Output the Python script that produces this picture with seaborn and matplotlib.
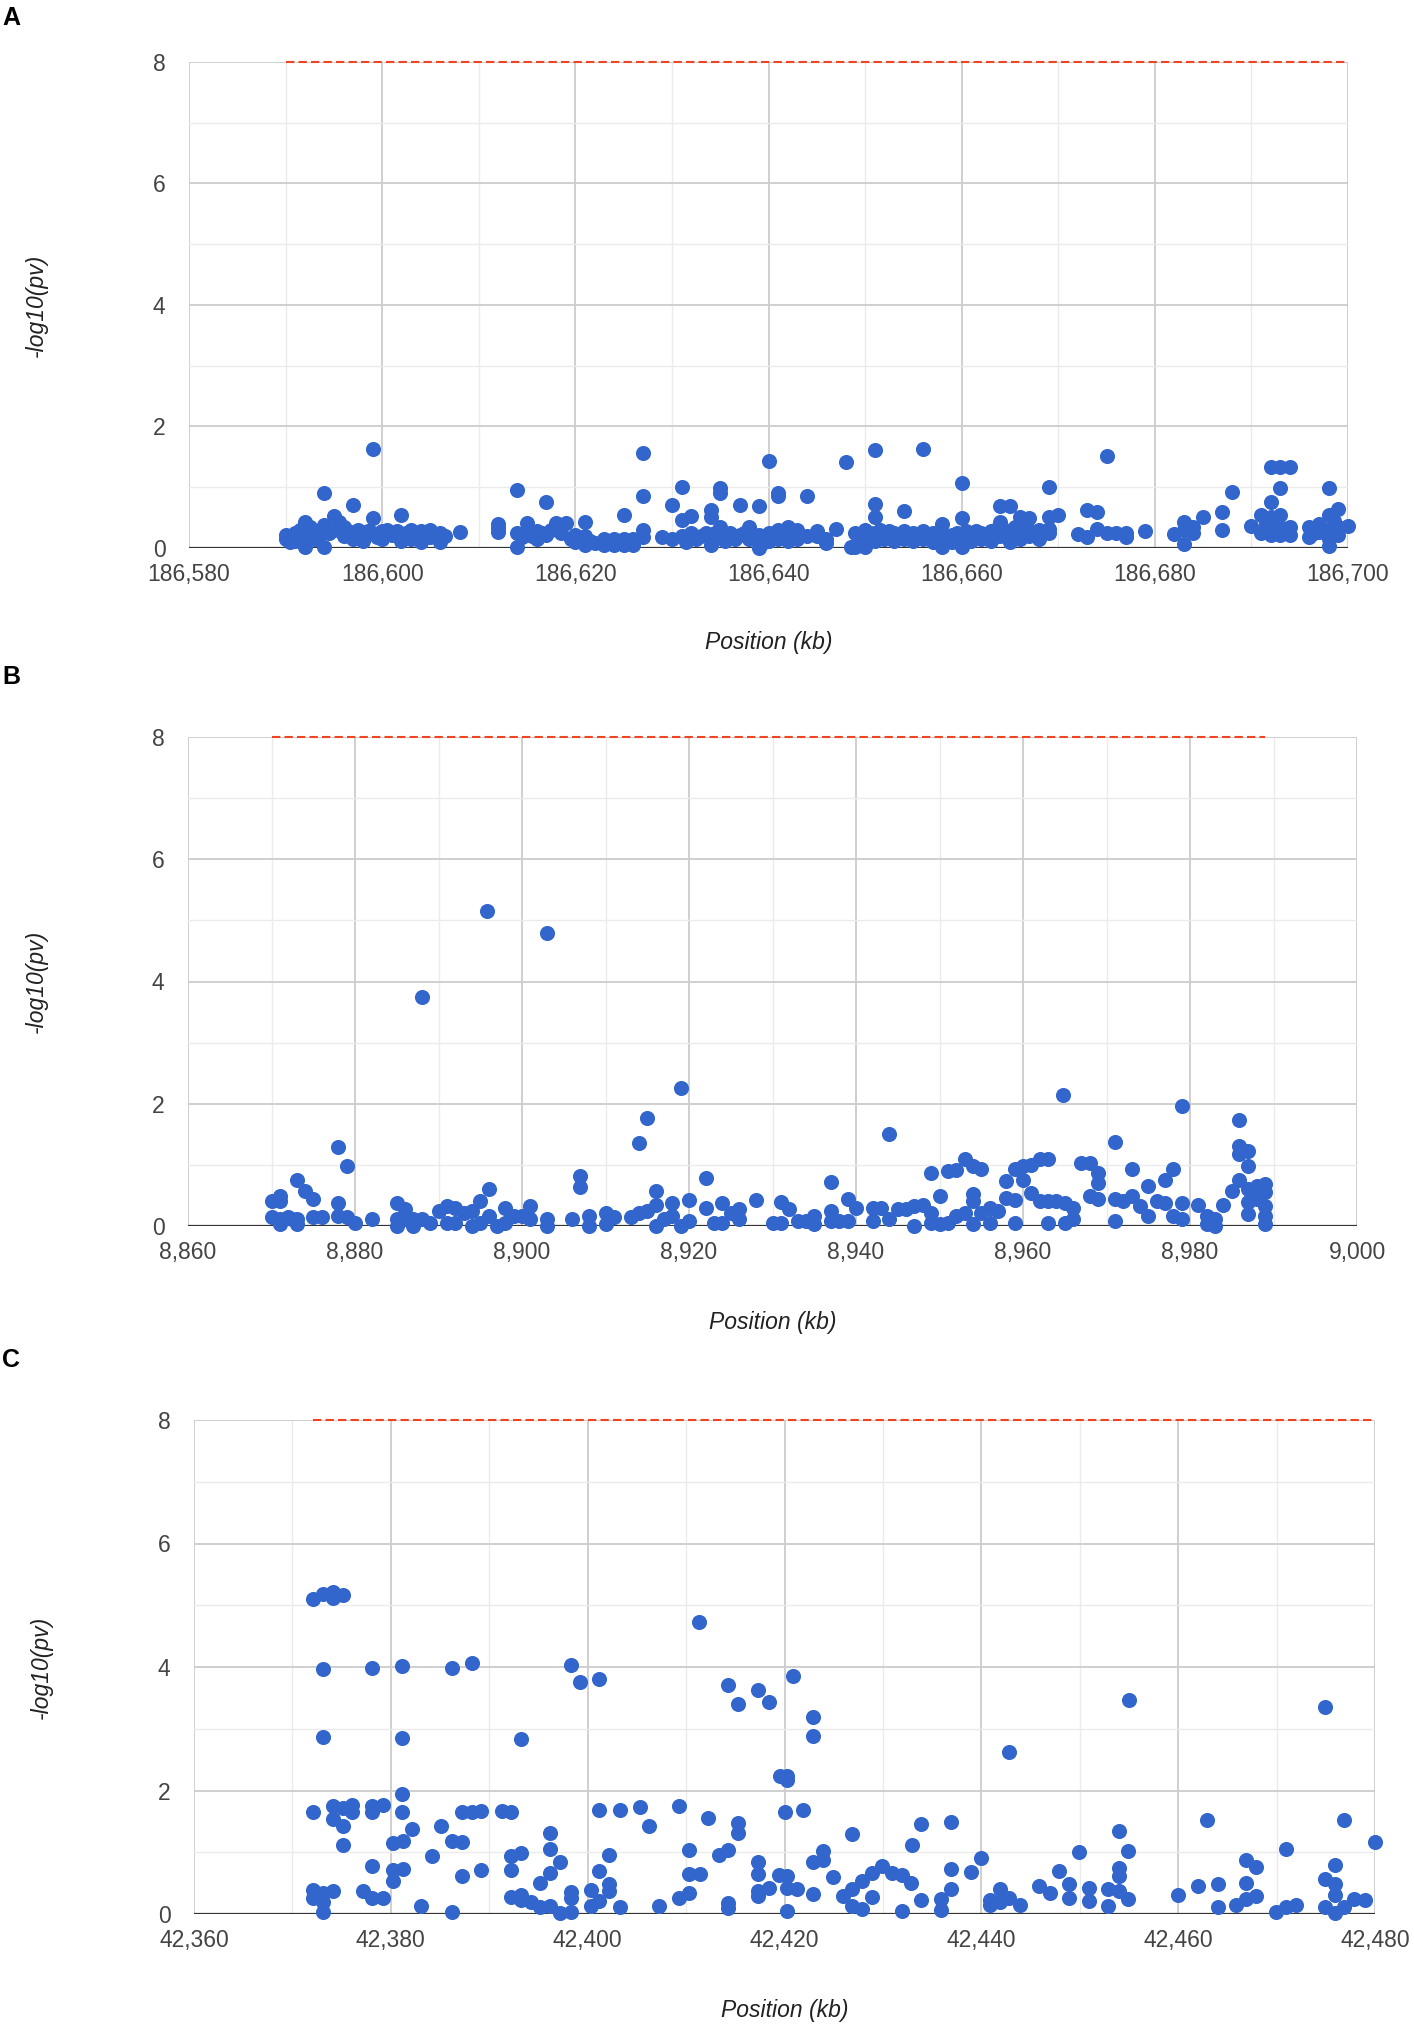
import numpy as np
import pandas as pd
import matplotlib
matplotlib.use("Agg")
import matplotlib.pyplot as plt
import seaborn as sns
from matplotlib.ticker import MultipleLocator, FuncFormatter

# ---------------- data ----------------
A_pos = [186590.0, 186590.0, 186590.5, 186591.0, 186591.0, 186591.5, 186592.0, 186592.0, 186592.0, 186592.5,
         186593.0, 186593.0, 186593.5, 186594.0, 186594.0, 186594.0, 186594.5, 186595.0, 186595.0, 186595.5,
         186596.0, 186596.0, 186596.5, 186597.0, 186597.0, 186597.5, 186598.0, 186598.0, 186598.5, 186599.0,
         186599.0, 186599.0, 186599.5, 186600.0, 186600.0, 186600.5, 186601.0, 186601.5, 186602.0, 186602.0,
         186602.5, 186603.0, 186603.0, 186603.5, 186604.0, 186604.0, 186604.5, 186605.0, 186605.0, 186605.5,
         186606.0, 186606.0, 186606.5, 186608.1,
         186612.0, 186612.0, 186612.0, 186614.0, 186614.0, 186614.0, 186614.5, 186615.0, 186615.0, 186615.5,
         186616.0, 186616.0, 186616.5, 186617.0, 186617.0, 186617.5, 186618.0, 186618.5, 186619.0, 186619.5,
         186620.0, 186620.0, 186620.5, 186621.0, 186621.0, 186621.0, 186621.5, 186622.0, 186623.0, 186623.0,
         186623.5, 186624.0, 186624.0, 186624.5, 186625.0, 186625.0, 186625.0, 186625.5, 186626.0, 186626.0,
         186627.0, 186627.0, 186627.0, 186627.0, 186629.0, 186630.0, 186630.0, 186631.0, 186631.0, 186631.0,
         186631.5, 186632.0, 186632.0, 186632.5, 186633.0, 186633.5, 186634.0, 186634.0, 186634.0, 186634.0,
         186634.5, 186635.0, 186635.0, 186635.0, 186635.0, 186635.5, 186636.0, 186636.5, 186637.0, 186637.0,
         186637.5, 186638.0, 186638.0, 186638.5, 186639.0, 186639.0, 186639.0, 186639.5, 186640.0, 186640.0,
         186640.0, 186640.5, 186641.0, 186641.0, 186641.0, 186641.0, 186641.5, 186642.0, 186642.0, 186643.0,
         186643.0, 186644.0, 186644.0, 186645.0, 186645.0, 186646.0, 186646.0, 186647.0, 186648.0, 186648.5,
         186649.0, 186649.0, 186649.5, 186650.0, 186650.0, 186650.0, 186650.5, 186651.0, 186651.0, 186651.0,
         186651.0, 186651.0, 186651.5, 186652.0, 186652.0, 186652.5, 186653.0, 186653.0, 186653.5, 186654.0,
         186654.0, 186654.0, 186654.5, 186655.0, 186655.0, 186655.5, 186656.0, 186656.0, 186656.0, 186656.5,
         186657.0, 186657.0, 186657.5, 186658.0, 186658.0, 186658.0, 186658.5, 186659.0, 186659.0, 186659.5,
         186660.0, 186660.0, 186660.0, 186660.0, 186660.5, 186661.0, 186661.0, 186661.5, 186662.0, 186662.0,
         186662.5, 186663.0, 186663.0, 186663.5, 186664.0, 186664.0, 186664.0, 186664.5, 186665.0, 186665.0,
         186665.0, 186665.5, 186666.0, 186666.0, 186666.0, 186666.5, 186667.0, 186667.0, 186667.0, 186667.5,
         186668.0, 186668.0, 186669.0, 186669.0, 186669.0, 186669.0, 186670.0, 186672.0, 186673.0, 186673.0,
         186674.0, 186674.0, 186675.0, 186675.0, 186676.0, 186677.0, 186677.0, 186679.0, 186682.0, 186683.0,
         186683.0, 186683.0, 186684.0, 186684.0, 186685.0, 186687.0, 186687.0, 186688.0, 186690.0, 186691.0,
         186691.0, 186691.5, 186692.0, 186692.0, 186692.0, 186692.0, 186692.5, 186693.0, 186693.0, 186693.0,
         186693.0, 186693.0, 186694.0, 186694.0, 186694.0, 186696.0, 186696.0, 186696.5, 186697.0, 186697.0,
         186698.0, 186698.0, 186698.0, 186698.0, 186698.0, 186698.5, 186699.0, 186699.0, 186699.0, 186700.0]
A_val = [0.15, 0.22, 0.10, 0.25, 0.12, 0.30, 0.43, 0.20, 0.02, 0.35,
         0.15, 0.28, 0.22, 0.90, 0.38, 0.02, 0.25, 0.52, 0.30, 0.42,
         0.35, 0.20, 0.28, 0.70, 0.15, 0.30, 0.22, 0.12, 0.28, 1.63,
         0.50, 0.25, 0.18, 0.28, 0.15, 0.30, 0.22, 0.28, 0.55, 0.12,
         0.25, 0.30, 0.15, 0.22, 0.28, 0.10, 0.25, 0.30, 0.18, 0.22,
         0.25, 0.10, 0.20, 0.27,
         0.40, 0.27, 0.33, 0.96, 0.25, 0.02, 0.18, 0.41, 0.30, 0.20,
         0.28, 0.15, 0.25, 0.76, 0.22, 0.30, 0.41, 0.25, 0.41, 0.15,
         0.10, 0.22, 0.15, 0.43, 0.20, 0.05, 0.12, 0.08, 0.15, 0.05,
         0.12, 0.15, 0.05, 0.10, 0.55, 0.15, 0.05, 0.12, 0.05, 0.15,
         1.57, 0.86, 0.30, 0.18, 0.18, 0.14, 0.70, 1.00, 0.46, 0.20,
         0.10, 0.52, 0.25, 0.15, 0.20, 0.25, 0.62, 0.51, 0.15, 0.05,
         0.25, 0.98, 0.90, 0.35, 0.20, 0.12, 0.25, 0.15, 0.70, 0.22,
         0.25, 0.35, 0.15, 0.20, 0.69, 0.22, 0.00, 0.10, 1.44, 0.25,
         0.12, 0.20, 0.90, 0.85, 0.30, 0.15, 0.25, 0.35, 0.12, 0.30,
         0.15, 0.85, 0.20, 0.20, 0.28, 0.08, 0.15, 0.32, 1.41, 0.02,
         0.25, 0.02, 0.15, 0.02, 0.30, 0.20, 0.25, 1.62, 0.73, 0.51,
         0.25, 0.12, 0.30, 0.20, 0.15, 0.28, 0.25, 0.12, 0.20, 0.61,
         0.28, 0.15, 0.22, 0.25, 0.12, 0.20, 1.63, 0.28, 0.15, 0.22,
         0.25, 0.10, 0.20, 0.40, 0.02, 0.25, 0.15, 0.22, 0.10, 0.25,
         1.07, 0.49, 0.02, 0.20, 0.28, 0.20, 0.12, 0.28, 0.25, 0.15,
         0.20, 0.28, 0.12, 0.30, 0.69, 0.43, 0.20, 0.30, 0.69, 0.25,
         0.10, 0.35, 0.51, 0.28, 0.15, 0.40, 0.50, 0.30, 0.20, 0.25,
         0.30, 0.15, 1.01, 0.51, 0.32, 0.25, 0.54, 0.23, 0.62, 0.18,
         0.60, 0.32, 1.51, 0.24, 0.24, 0.18, 0.25, 0.28, 0.23, 0.43,
         0.06, 0.30, 0.35, 0.24, 0.51, 0.59, 0.29, 0.93, 0.36, 0.54,
         0.24, 0.40, 1.34, 0.76, 0.51, 0.21, 0.35, 1.33, 0.98, 0.54,
         0.21, 0.35, 1.33, 0.21, 0.35, 0.35, 0.18, 0.25, 0.26, 0.40,
         0.98, 0.54, 0.04, 0.30, 0.15, 0.45, 0.65, 0.35, 0.21, 0.36]

B_pos = [8870.0, 8870.0, 8871.0, 8871.0, 8871.0, 8871.0, 8872.0, 8872.5, 8873.0, 8873.0,
         8873.0, 8874.0, 8875.0, 8875.0, 8876.0, 8878.0, 8878.0, 8878.0, 8879.0, 8879.0,
         8880.0, 8882.0, 8885.0, 8885.0, 8885.0, 8886.0, 8886.0, 8887.0, 8887.0, 8888.0,
         8888.0, 8889.0, 8890.0, 8891.0, 8891.0, 8892.0, 8892.0, 8893.0, 8894.0, 8894.0,
         8895.0, 8895.0, 8895.8, 8896.0, 8896.0, 8897.0, 8898.0, 8898.0, 8899.0, 8900.0,
         8901.0, 8901.0, 8903.0, 8903.0, 8903.0, 8906.0, 8907.0, 8907.0, 8908.0, 8908.0,
         8910.0, 8910.0, 8911.0, 8913.0, 8914.0, 8914.0, 8915.0, 8915.0, 8916.0, 8916.0,
         8916.0, 8917.0, 8918.0, 8918.0, 8919.0, 8919.0, 8920.0, 8920.0, 8922.0, 8922.0,
         8923.0, 8924.0, 8924.0, 8925.0, 8926.0, 8926.0, 8928.0, 8930.0, 8931.0, 8931.0,
         8932.0, 8933.0, 8934.0, 8935.0, 8935.0, 8937.0, 8937.0, 8937.0, 8938.0, 8939.0,
         8939.0, 8940.0, 8942.0, 8942.0, 8943.0, 8944.0, 8944.0, 8945.0, 8946.0, 8947.0,
         8947.0, 8948.0, 8949.0, 8949.0, 8949.0, 8950.0, 8950.0, 8951.0, 8951.0, 8952.0,
         8952.0, 8953.0, 8953.0, 8954.0, 8954.0, 8954.0, 8954.0, 8955.0, 8955.0, 8956.0,
         8956.0, 8957.0, 8958.0, 8958.0, 8959.0, 8959.0, 8959.0, 8960.0, 8960.0, 8961.0,
         8961.0, 8962.0, 8962.0, 8963.0, 8963.0, 8963.0, 8964.0, 8964.8, 8965.0, 8965.0,
         8966.0, 8966.0, 8967.0, 8968.0, 8968.0, 8969.0, 8969.0, 8969.0, 8971.0, 8971.0,
         8971.0, 8972.0, 8973.0, 8973.0, 8974.0, 8975.0, 8975.0, 8976.0, 8977.0, 8977.0,
         8978.0, 8978.0, 8979.0, 8979.0, 8979.0, 8981.0, 8982.0, 8982.0, 8983.0, 8983.0,
         8984.0, 8985.0, 8985.9, 8985.9, 8985.9, 8985.9, 8987.0, 8987.0, 8987.0, 8987.0,
         8987.0, 8988.0, 8988.0, 8989.0, 8989.0, 8989.0, 8989.0, 8989.0]
B_val = [0.41, 0.14, 0.49, 0.41, 0.11, 0.03, 0.14, 0.11, 0.75, 0.11,
         0.03, 0.57, 0.44, 0.14, 0.14, 1.29, 0.38, 0.16, 0.98, 0.14,
         0.05, 0.11, 0.38, 0.11, 0.00, 0.27, 0.11, 0.11, 0.00, 3.75,
         0.11, 0.05, 0.25, 0.33, 0.05, 0.30, 0.05, 0.22, 0.25, 0.00,
         0.41, 0.05, 5.15, 0.60, 0.16, 0.00, 0.30, 0.05, 0.16, 0.16,
         0.33, 0.11, 4.80, 0.11, 0.00, 0.11, 0.81, 0.63, 0.16, 0.00,
         0.22, 0.03, 0.14, 0.14, 1.35, 0.22, 1.76, 0.25, 0.58, 0.35,
         0.00, 0.11, 0.38, 0.16, 2.25, 0.00, 0.42, 0.08, 0.78, 0.30,
         0.05, 0.38, 0.05, 0.22, 0.27, 0.11, 0.42, 0.05, 0.40, 0.05,
         0.27, 0.08, 0.08, 0.16, 0.03, 0.72, 0.25, 0.08, 0.08, 0.44,
         0.08, 0.30, 0.30, 0.08, 0.30, 1.51, 0.11, 0.27, 0.27, 0.33,
         0.00, 0.35, 0.86, 0.22, 0.05, 0.49, 0.03, 0.90, 0.05, 0.92,
         0.16, 1.09, 0.22, 0.98, 0.52, 0.41, 0.03, 0.94, 0.22, 0.30,
         0.05, 0.25, 0.74, 0.46, 0.94, 0.43, 0.05, 0.98, 0.76, 1.00,
         0.54, 1.10, 0.41, 1.09, 0.41, 0.05, 0.41, 2.14, 0.05, 0.38,
         0.11, 0.30, 1.03, 1.03, 0.49, 0.87, 0.71, 0.44, 1.37, 0.44,
         0.08, 0.41, 0.93, 0.49, 0.33, 0.65, 0.16, 0.41, 0.76, 0.38,
         0.94, 0.16, 1.97, 0.38, 0.11, 0.35, 0.16, 0.03, 0.11, 0.00,
         0.35, 0.57, 1.73, 1.31, 1.17, 0.76, 1.23, 0.98, 0.60, 0.40,
         0.20, 0.65, 0.44, 0.68, 0.55, 0.33, 0.16, 0.03]

C_pos = [42372.1, 42373.1, 42374.1, 42374.1, 42375.1, 42373.1, 42378.1, 42381.1, 42386.2, 42388.2,
         42398.3, 42399.2, 42401.2, 42411.3, 42414.3, 42415.3, 42417.3, 42418.4, 42420.9, 42455.0,
         42474.9, 42373.1, 42381.1, 42393.2, 42419.5, 42420.3, 42420.3, 42422.9, 42422.9, 42442.8,
         42372.1, 42374.1, 42375.1, 42376.1, 42376.1, 42374.1, 42375.1, 42375.1, 42378.1, 42378.1,
         42379.2, 42381.1, 42381.1, 42380.2, 42381.2, 42382.2, 42385.1, 42386.2, 42387.2, 42387.2,
         42388.2, 42389.2, 42391.3, 42392.2,
         42378.1, 42380.2, 42380.2, 42381.2, 42384.2, 42387.2, 42389.2, 42392.2, 42393.2, 42392.2,
         42396.2, 42396.2, 42397.2, 42396.2, 42395.2,
         42372.1, 42372.1, 42373.1, 42373.1, 42373.1, 42374.1, 42377.2, 42378.1, 42379.2, 42383.1,
         42386.2, 42392.2, 42393.2, 42393.2, 42394.2, 42395.2, 42396.2, 42397.2, 42398.3, 42398.3,
         42398.3,
         42400.3, 42400.3, 42401.2, 42403.3, 42405.3, 42406.2, 42409.3, 42412.2, 42415.3, 42415.3,
         42401.2, 42402.2, 42402.2, 42402.2, 42401.2, 42403.3, 42407.2, 42409.3, 42410.3, 42410.3,
         42410.3, 42411.4, 42413.3, 42414.3, 42414.3, 42414.3,
         42417.3, 42417.3, 42417.3, 42417.3, 42418.4, 42419.4, 42420.3, 42420.3, 42420.3, 42421.3,
         42420.0, 42421.9, 42426.9, 42433.0, 42433.9, 42436.9, 42422.9, 42423.9, 42423.9, 42422.9,
         42424.9, 42425.9, 42426.9, 42426.9, 42427.9, 42427.9, 42428.9, 42428.9, 42429.9, 42430.9,
         42431.9, 42431.9, 42432.9, 42433.9, 42435.9, 42435.9, 42436.9, 42436.9, 42439.0, 42440.0,
         42440.9, 42440.9, 42441.9, 42441.9, 42442.8, 42443.9, 42445.9, 42447.0, 42447.9, 42448.9,
         42448.9, 42449.9, 42450.9, 42450.9, 42452.9, 42452.9, 42454.0, 42454.0, 42454.0, 42454.0,
         42454.9, 42454.9, 42460.0, 42462.0, 42462.9, 42464.0, 42464.0, 42465.9, 42466.9, 42466.9,
         42466.9, 42467.9, 42467.9, 42469.9, 42471.0, 42471.0, 42472.0, 42474.9, 42474.9, 42475.9,
         42475.9, 42475.9, 42475.9, 42476.9, 42476.9, 42477.9, 42479.0, 42480.0]
C_val = [5.10, 5.19, 5.22, 5.11, 5.17, 3.97, 3.98, 4.02, 3.98, 4.06,
         4.03, 3.75, 3.81, 4.73, 3.71, 3.40, 3.62, 3.43, 3.85, 3.46,
         3.36, 2.87, 2.85, 2.83, 2.24, 2.23, 2.17, 3.19, 2.88, 2.62,
         1.65, 1.75, 1.72, 1.77, 1.65, 1.54, 1.43, 1.11, 1.75, 1.65,
         1.76, 1.94, 1.65, 1.15, 1.19, 1.37, 1.43, 1.19, 1.17, 1.65,
         1.65, 1.66, 1.66, 1.65,
         0.77, 0.72, 0.53, 0.73, 0.94, 0.61, 0.72, 0.94, 0.98, 0.72,
         1.31, 1.05, 0.85, 0.66, 0.51,
         0.39, 0.26, 0.34, 0.20, 0.04, 0.38, 0.37, 0.26, 0.26, 0.13,
         0.03, 0.28, 0.31, 0.23, 0.19, 0.12, 0.13, 0.02, 0.04, 0.35,
         0.26,
         0.39, 0.13, 1.69, 1.68, 1.73, 1.43, 1.75, 1.56, 1.48, 1.31,
         0.69, 0.96, 0.48, 0.38, 0.21, 0.12, 0.13, 0.26, 0.34, 1.03,
         0.65, 0.65, 0.95, 1.03, 0.18, 0.10,
         0.84, 0.65, 0.37, 0.29, 0.42, 0.63, 0.61, 0.42, 0.05, 0.40,
         1.65, 1.68, 1.30, 1.12, 1.46, 1.49, 0.85, 1.02, 0.88, 0.33,
         0.60, 0.29, 0.40, 0.13, 0.53, 0.08, 0.66, 0.27, 0.78, 0.66,
         0.63, 0.05, 0.51, 0.23, 0.24, 0.07, 0.73, 0.41, 0.68, 0.90,
         0.23, 0.15, 0.41, 0.20, 0.26, 0.15, 0.45, 0.34, 0.69, 0.48,
         0.26, 1.00, 0.42, 0.21, 0.40, 0.13, 1.34, 0.75, 0.61, 0.38,
         1.02, 0.24, 0.30, 0.45, 1.53, 0.49, 0.11, 0.14, 0.87, 0.50,
         0.24, 0.76, 0.29, 0.03, 1.05, 0.12, 0.14, 0.57, 0.12, 0.80,
         0.49, 0.30, 0.02, 0.12, 1.53, 0.24, 0.22, 1.17]

THRESHOLD = 8
A_xlim = (186580, 186700)
B_xlim = (8860, 9000)
C_xlim = (42360, 42480)
panel_letters = ["A", "B", "C"]
xlabel_text = "Position (kb)"
ylabel_text = "-log10(pv)"

# ---------------- style ----------------
sns.set_theme(style="white")
plt.rcParams["font.family"] = ["Liberation Sans", "DejaVu Sans"]

W, H = 1414, 2030
fig = plt.figure(figsize=(W / 100, H / 100), dpi=100)

DOT = "#3366CC"
RED = "#EE4422"

# pixel boxes: left, right, top(y=8), bottom(y=0)
boxes = [(189, 1348, 62, 548), (188, 1357, 737, 1226), (194, 1375, 1420, 1914)]
ylabel_x = [36, 36, 41]
xlabel_y = [642, 1322, 2011]
letter_y = [18, 677, 1360]

datasets = [(A_pos, A_val, A_xlim), (B_pos, B_val, B_xlim), (C_pos, C_val, C_xlim)]

for i, ((xs, ys, xl), (l, r, t, b)) in enumerate(zip(datasets, boxes)):
    ax = fig.add_axes([l / W, 1 - b / H, (r - l) / W, (b - t) / H])
    df = pd.DataFrame({"pos": xs, "val": ys})
    ax.set_xlim(*xl)
    ax.set_ylim(0, 8)
    ax.xaxis.set_major_locator(MultipleLocator(20))
    ax.xaxis.set_minor_locator(MultipleLocator(10))
    ax.yaxis.set_major_locator(MultipleLocator(2))
    ax.yaxis.set_minor_locator(MultipleLocator(1))
    ax.grid(which="major", color="#cccccc", lw=1.3, zorder=0)
    ax.grid(which="minor", color="#ebebeb", lw=1.0, zorder=0)
    ax.set_axisbelow(True)
    for s in ax.spines.values():
        s.set_visible(False)
    ax.axhline(0, color="#333333", lw=1.6, zorder=1)
    # threshold line across data range
    ax.plot([min(xs), max(xs)], [THRESHOLD, THRESHOLD], color=RED, lw=1.5,
            dashes=(4, 2), zorder=2, clip_on=False)
    sns.scatterplot(data=df, x="pos", y="val", ax=ax, color=DOT, s=118,
                    linewidth=0, zorder=3, clip_on=False)
    ax.xaxis.set_major_formatter(FuncFormatter(lambda v, p: f"{int(round(v)):,}"))
    ax.tick_params(axis="both", which="both", length=0, labelsize=16.5,
                   labelcolor="#444444")
    ax.tick_params(axis="x", pad=11)
    ax.tick_params(axis="y", pad=17)
    ax.set_xlabel("")
    ax.set_ylabel("")
    fig.text(ylabel_x[i] / W, 1 - ((t + b) / 2) / H, ylabel_text, rotation=90,
             ha="center", va="center", fontsize=16.5, style="italic", color="#222222")
    fig.text(((l + r) / 2) / W, 1 - xlabel_y[i] / H, xlabel_text,
             ha="center", va="center", fontsize=16.5, style="italic", color="#222222")
    fig.text(2 / W, 1 - letter_y[i] / H, panel_letters[i], ha="left", va="center",
             fontsize=18, fontweight="bold", color="black")

fig.savefig("out.png", dpi=100, facecolor="white")
